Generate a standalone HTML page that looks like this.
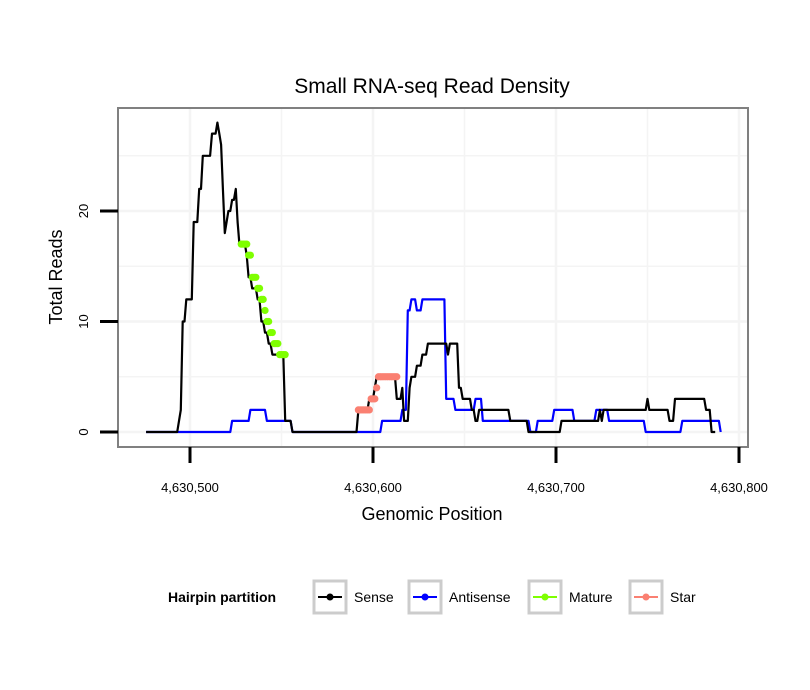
<!DOCTYPE html>
<html><head><meta charset="utf-8"><style>body{margin:0;background:#fff}svg{display:block;font-family:"Liberation Sans",sans-serif}</style></head>
<body>
<svg width="810" height="690" id="c">
<text x="432" y="93" font-size="21" text-anchor="middle">Small RNA-seq Read Density</text>
<rect x="118" y="108" width="630" height="339" fill="#fff"/>
<g id="grid"></g><g id="series"></g>
<rect x="118" y="108" width="630" height="339" fill="none" stroke="#808080" stroke-width="2"/>
<g id="axes"></g>
<text x="432" y="520" font-size="18" text-anchor="middle">Genomic Position</text>
<text transform="translate(62,277) rotate(-90)" font-size="18" text-anchor="middle">Total Reads</text>
<g font-size="14">
<text x="168" y="602" font-weight="bold">Hairpin partition</text>
<g><rect x="314" y="581" width="32" height="32" fill="#fff" stroke="#ccc" stroke-width="3"/><line x1="318" y1="597" x2="342" y2="597" stroke="#000" stroke-width="2"/><circle cx="330" cy="597" r="3.5" fill="#000"/><text x="354" y="602">Sense</text></g>
<g><rect x="409" y="581" width="32" height="32" fill="#fff" stroke="#ccc" stroke-width="3"/><line x1="413" y1="597" x2="437" y2="597" stroke="#0000ff" stroke-width="2"/><circle cx="425" cy="597" r="3.5" fill="#0000ff"/><text x="449" y="602">Antisense</text></g>
<g><rect x="529" y="581" width="32" height="32" fill="#fff" stroke="#ccc" stroke-width="3"/><line x1="533" y1="597" x2="557" y2="597" stroke="#7fff00" stroke-width="2"/><circle cx="545" cy="597" r="3.5" fill="#7fff00"/><text x="569" y="602">Mature</text></g>
<g><rect x="630" y="581" width="32" height="32" fill="#fff" stroke="#ccc" stroke-width="3"/><line x1="634" y1="597" x2="658" y2="597" stroke="#fa8072" stroke-width="2"/><circle cx="646" cy="597" r="3.5" fill="#fa8072"/><text x="670" y="602">Star</text></g>
</g>
</svg>
<script>
const BASE = 4630500;
const xTicks = [4630500, 4630600, 4630700, 4630800];
const xTickLabels = ["4,630,500", "4,630,600", "4,630,700", "4,630,800"];
const yTicks = [0, 10, 20];
const yTickLabels = ["0", "10", "20"];
const senseOffsets = [-24,-8,-6,-5,-4,-2,2,5,7,12,14,15,16,17,18,19,20,21,23,25,26,27,28,31,32,34,37,39,41,43,45,48,52,53,56,57,92,93,98,99,101,102,103,113,114,116,117,118,120,121,124,127,130,132,141,142,143,147,149,154,156,158,159,175,176,185,186,203,204,224,225,226,227,250,251,252,262,263,265,267,282,283,285,286,288];
const senseValues = [0,0,1,2,10,12,19,22,25,27,27,28,27,26,22,18,19,20,21,22,19,17,17,16,14,13,12,10,9,8,7,7,1,1,0,0,2,2,3,3,4,5,5,3,3,4,1,1,4,5,6,7,8,8,7,8,8,4,3,2,1,2,2,1,1,0,0,1,1,2,1,2,2,3,2,2,1,1,3,3,2,2,0,0];
const antiOffsets = [-24,22,23,32,33,41,42,55,56,104,105,115,116,119,121,124,127,137,140,145,155,156,159,160,162,185,186,189,190,198,199,209,210,221,222,228,229,248,249,268,269,289,290];
const antiValues = [0,0,1,1,2,2,1,1,0,0,1,1,2,11,12,11,12,12,3,2,2,3,3,1,1,1,0,0,1,1,2,2,1,1,2,2,1,1,0,0,1,1,0];
const matureOffsets = [28,29,30,31,32,33,34,35,36,37,38,39,40,41,42,43,44,45,46,47,48,49,50,51,52];
const matureValues = [17,17,17,17,16,16,14,14,14,13,13,12,12,11,10,10,9,9,8,8,8,7,7,7,7];
const starOffsets = [92,93,94,95,96,97,98,99,100,101,102,103,104,105,106,107,108,109,110,111,112,113];
const starValues = [2,2,2,2,2,2,2,3,3,3,4,5,5,5,5,5,5,5,5,5,5,5];

const X0=190, XS=1.83, Y0=432, YS=11.05;
const xs = p => X0 + (p - BASE) * XS;
const ys = v => Y0 - v * YS;
const NS='http://www.w3.org/2000/svg';
function mk(tag, attrs, parent){const e=document.createElementNS(NS,tag);for(const k in attrs)e.setAttribute(k,attrs[k]);parent.appendChild(e);return e;}
const grid=document.getElementById('grid'), ser=document.getElementById('series'), axes=document.getElementById('axes');
for(let p=4630450;p<=4630800;p+=50){const gx=xs(p);if(gx<120||gx>746)continue;const g=mk('line',{x1:gx,x2:gx,y1:109,y2:446,stroke:'#f4f4f4','stroke-width':p%100===0?2.5:1.5},grid);

}
for(let v=0;v<=30;v+=5){if(ys(v)<109)continue;const g=mk('line',{x1:119,x2:747,y1:ys(v),y2:ys(v),stroke:'#f4f4f4','stroke-width':v%10===0?2.5:1.5},grid);

}
xTicks.forEach((t,i)=>{const l=mk('line',{x1:xs(t),x2:xs(t),y1:447,y2:463,stroke:'#000','stroke-width':3},axes);


const tx=mk('text',{x:xs(t),y:492,'font-size':13,'text-anchor':'middle'},axes);tx.textContent=xTickLabels[i];

});
yTicks.forEach((t,i)=>{const l=mk('line',{x1:100,x2:118,y1:ys(t),y2:ys(t),stroke:'#000','stroke-width':3},axes);


const tx=mk('text',{transform:`translate(88,${ys(t)}) rotate(-90)`,'font-size':13,'text-anchor':'middle'},axes);tx.textContent=yTickLabels[i];

});
function line(off,vals,color,name){
  const pts=[];
  for(let i=0;i<off.length;i++){
    pts.push([off[i],vals[i]]);
    if(i+1<off.length && off[i+1]-off[i]>1) pts.push([off[i+1]-1,vals[i]]);
  }
  const d=pts.map((q,i)=>(i?'L':'M')+xs(BASE+q[0]).toFixed(1)+','+ys(q[1]).toFixed(1)).join(' ');
  const p=mk('path',{d:d,fill:'none',stroke:color,'stroke-width':2.2,'stroke-linejoin':'round'},ser);
  
  }
function pts(off,vals,color,name){off.forEach((o,i)=>{const c=mk('circle',{cx:xs(BASE+o),cy:ys(vals[i]),r:3.6,fill:color},ser);

});}
line(antiOffsets,antiValues,'#0000ff','antisense-line');
line(senseOffsets,senseValues,'#000','sense-line');
pts(matureOffsets,matureValues,'#7fff00','mature-point');
pts(starOffsets,starValues,'#fa8072','star-point');
</script>
</body></html>
